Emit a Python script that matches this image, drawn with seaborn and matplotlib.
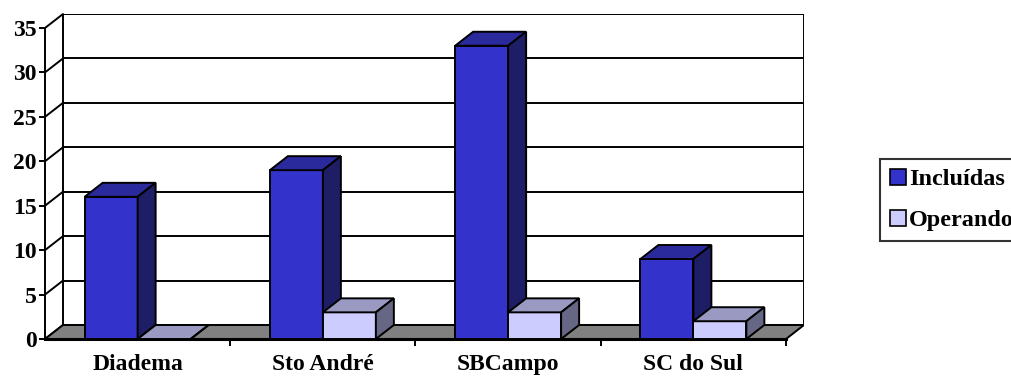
import matplotlib
matplotlib.use("Agg")
import matplotlib.pyplot as plt
from matplotlib.patches import Polygon, Patch
import seaborn as sns
import pandas as pd

municipios = ["Diadema", "Sto André", "SBCampo", "SC do Sul"]
incluidas = [16, 19, 33, 9]
operando = [0, 3, 3, 2]
series = ["Incluídas", "Operando"]
y_ticks = [0, 5, 10, 15, 20, 25, 30, 35]

df = pd.DataFrame({
    "Município": municipios * 2,
    "Quantidade": incluidas + operando,
    "Situação": [series[0]] * len(municipios) + [series[1]] * len(municipios),
})

# face colours per series: front, top, side
faces = {
    series[0]: ("#3333CC", "#2A2A9C", "#1E1E66"),
    series[1]: ("#CCCCFF", "#9999C2", "#666685"),
}

sns.set_theme(style="white")
plt.rcParams["font.family"] = ["Liberation Serif", "DejaVu Serif"]
plt.rcParams["font.weight"] = "bold"

W, H = 1012, 376
fig = plt.figure(figsize=(W / 100, H / 100), dpi=100)
fig.patch.set_facecolor("white")

# pixel geometry of the front plane and the depth offset
px_left, px_front_right, px_zero, px_per_unit = 45, 786, 339, 8.886
depth_px_x, depth_px_y = 18, 14
n = len(municipios)
cat_px = (px_front_right - px_left) / n
dx = depth_px_x / cat_px
dy = depth_px_y / px_per_unit
ymax = 35
px_right = px_front_right + depth_px_x
px_top = px_zero - (ymax + dy) * px_per_unit

ax = fig.add_axes([px_left / W, (H - px_zero) / H,
                   (px_right - px_left) / W, (px_zero - px_top) / H])
ax.set_facecolor("none")

x0, x1 = -0.5, n - 0.5
lw = 1.4

# back wall with gridlines
ax.add_patch(Polygon([(x0 + dx, dy), (x1 + dx, dy), (x1 + dx, ymax + dy), (x0 + dx, ymax + dy)],
                     closed=True, facecolor="white", edgecolor="black", lw=lw, zorder=1))
for v in y_ticks[1:-1]:
    ax.plot([x0 + dx, x1 + dx], [v + dy, v + dy], color="black", lw=lw, zorder=1.5)
# side wall diagonals
for v in y_ticks:
    ax.plot([x0, x0 + dx], [v, v + dy], color="black", lw=lw, zorder=1.5, clip_on=False)

# floor
ax.add_patch(Polygon([(x0, 0), (x1, 0), (x1 + dx, dy), (x0 + dx, dy)],
                     closed=True, facecolor="#808080", edgecolor="black", lw=lw, zorder=2))

sns.barplot(data=df, x="Município", y="Quantidade", hue="Situação",
            palette=[faces[s][0] for s in series], saturation=1,
            width=0.572, edgecolor="black", linewidth=lw, legend=False, ax=ax)

ax.set_xlim(x0, x1 + dx)
ax.set_ylim(0, ymax + dy)

bars = [p for p in ax.patches if p.__class__.__name__ == "Rectangle"]
for i, p in enumerate(bars):
    p.set_clip_on(False)
    s = series[i // n]
    front, top, side = faces[s]
    bx, bw, bh = p.get_x(), p.get_width(), p.get_height()
    z = 10 + 2 * round(bx * 10)
    p.set_zorder(z)
    ax.add_patch(Polygon([(bx, bh), (bx + bw, bh), (bx + bw + dx, bh + dy), (bx + dx, bh + dy)],
                         closed=True, facecolor=top, edgecolor="black", lw=lw, zorder=z,
                         clip_on=False))
    ax.add_patch(Polygon([(bx + bw, 0), (bx + bw + dx, dy), (bx + bw + dx, bh + dy), (bx + bw, bh)],
                         closed=True, facecolor=side, edgecolor="black", lw=lw, zorder=z,
                         clip_on=False))

# axes lines and ticks
for sp in ["top", "right"]:
    ax.spines[sp].set_visible(False)
ax.spines["left"].set_bounds(0, ymax)
ax.spines["bottom"].set_bounds(x0, x1)
for sp in ["left", "bottom"]:
    ax.spines[sp].set_color("black")
    ax.spines[sp].set_linewidth(lw)
    ax.spines[sp].set_zorder(3)
ax.spines["bottom"].set_linewidth(2.2)

ax.set_yticks(y_ticks)
ax.set_yticklabels([str(v) for v in y_ticks])
ax.set_xticks(range(n))
ax.set_xticklabels(municipios)
ax.set_xticks([k + 0.5 for k in range(n)], minor=True)
ax.tick_params(axis="y", which="major", left=True, length=4, width=lw, color="black",
               pad=2, labelsize=17, labelcolor="black")
ax.tick_params(axis="x", which="major", bottom=True, length=0, pad=11,
               labelsize=17, labelcolor="black")
ax.tick_params(axis="x", which="minor", bottom=True, length=5, width=lw, color="black")
for lab in ax.get_xticklabels() + ax.get_yticklabels():
    lab.set_fontweight("bold")
ax.set_xlabel("")
ax.set_ylabel("")
ax.grid(False)

handles = [Patch(facecolor=faces[s][0], edgecolor="black", lw=1.2, label=s) for s in series]
leg = fig.legend(handles=handles, loc="upper left", bbox_to_anchor=(880 / W, 1 - 159 / H),
                 frameon=True, fancybox=False, shadow=False, handlelength=0.65,
                 handleheight=0.65, handletextpad=0.15, borderpad=0.4, labelspacing=0.8,
                 borderaxespad=0, prop={"family": "Liberation Serif", "weight": "bold", "size": 17.5})
leg.get_frame().set_edgecolor("black")
leg.get_frame().set_linewidth(1.5)
for t in leg.get_texts():
    t.set_color("black")

fig.savefig("out.png", dpi=100)
